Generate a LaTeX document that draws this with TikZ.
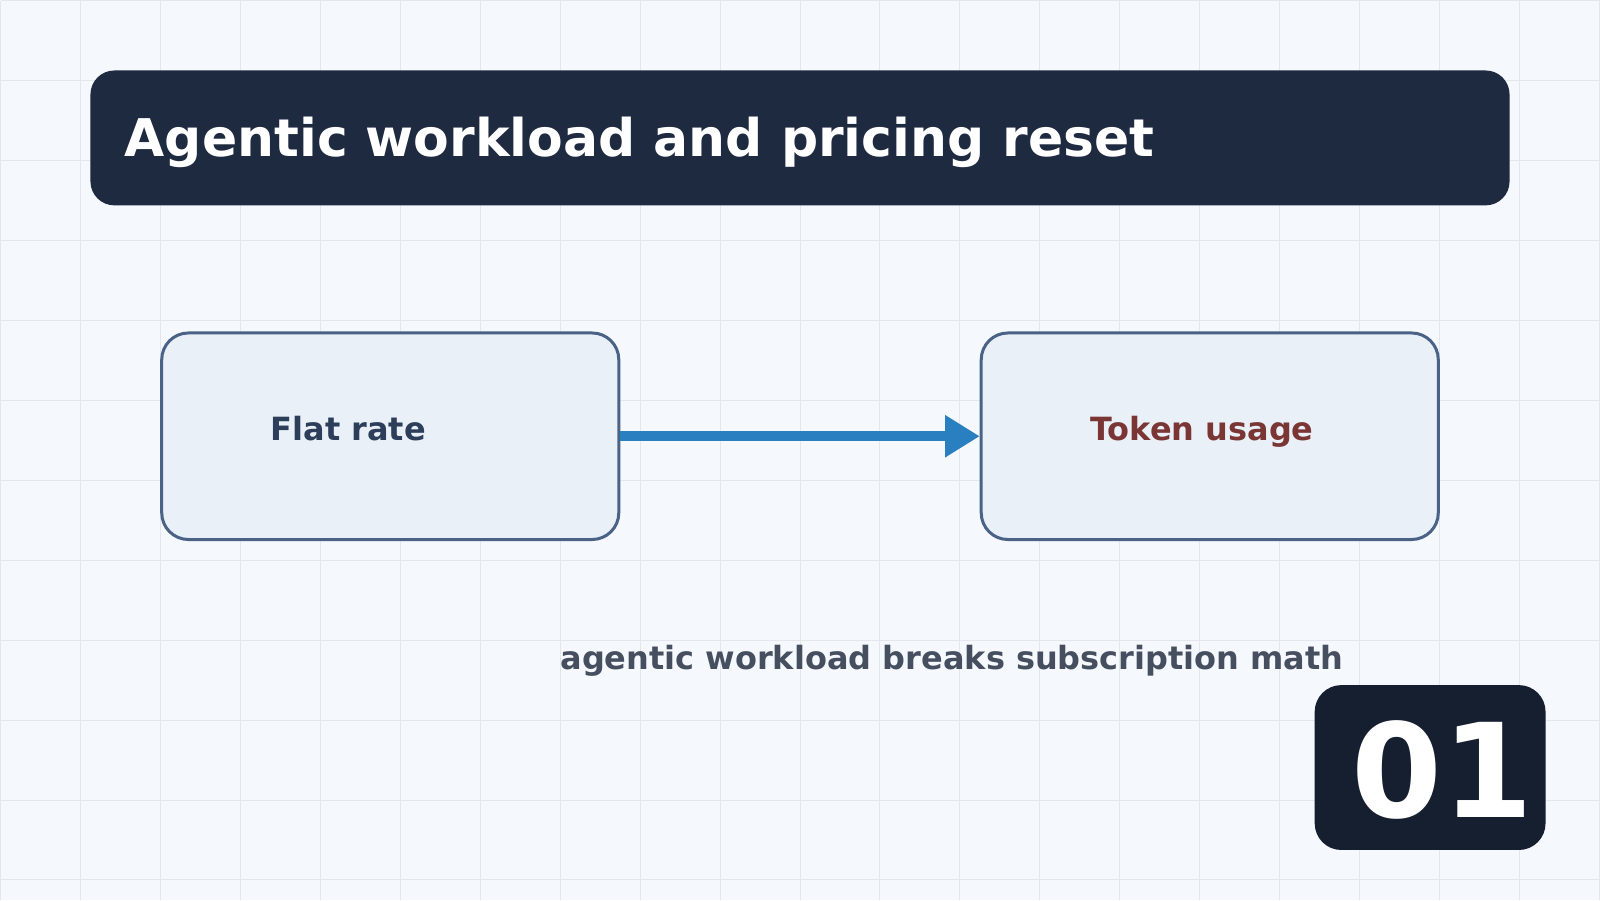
\documentclass[tikz,border=0pt]{standalone}
\usepackage{fontspec}
\setmainfont{DejaVu Sans}
\usetikzlibrary{arrows.meta}
\definecolor{pagebg}{HTML}{F5F8FC}
\definecolor{gridln}{HTML}{E2E7EE}
\definecolor{titlebg}{HTML}{1E2A40}
\definecolor{boxfill}{HTML}{EAF0F8}
\definecolor{boxline}{HTML}{4A6286}
\definecolor{flatcol}{HTML}{2C3E5A}
\definecolor{tokencol}{HTML}{7A3535}
\definecolor{arrowcol}{HTML}{2A7FC0}
\definecolor{notecol}{HTML}{454F5F}
\definecolor{badgebg}{HTML}{151F30}
\tikzset{
  stagebox/.style={draw=boxline, fill=boxfill, line width=2.25pt, rounded corners=20pt,
    minimum width=343pt, minimum height=155pt, inner sep=0pt},
  stagelabel/.style={anchor=base west, inner sep=0pt, font=\bfseries\fontsize{24}{29}\selectfont},
}
\begin{document}
\begin{tikzpicture}[x=0.75pt, y=-0.75pt]
  % page and grid
  \fill[pagebg] (0,0) rectangle (1600,900);
  \foreach \x in {0,80,...,1600}
    \draw[gridln, line width=0.75pt] (\x,0) -- (\x,900);
  \foreach \y in {0,80,...,880}
    \draw[gridln, line width=0.75pt] (0,\y) -- (1600,\y);
  \useasboundingbox (0,0) rectangle (1600,900);

  % title bar
  \fill[titlebg, rounded corners=18pt] (90,70) rectangle (1510,205);
  \node[anchor=base west, inner sep=0pt, text=white, font=\bfseries\fontsize{39}{47}\selectfont]
    (title) at (124,156) {Agentic workload and pricing reset};

  % the two stages
  \node[stagebox] (flatbox) at (390,436) {};
  \node[stagebox] (tokenbox) at (1210,436) {};
  \node[stagelabel, text=flatcol] (flat) at (270,440) {Flat rate};
  \node[stagelabel, text=tokencol] (token) at (1090,440) {Token usage};

  % shift arrow
  \draw[arrowcol, line width=7.5pt, -{Triangle[length=26pt, width=30pt]}]
    (flatbox.east) -- (tokenbox.west);

  % note under the arrow
  \node[anchor=base west, inner sep=0pt, text=notecol, font=\bfseries\fontsize{24}{29}\selectfont]
    (note) at (560,669) {agentic workload breaks subscription math};

  % slide number
  \fill[badgebg, rounded corners=20pt] (1315,685) rectangle (1546,850);
  \node[anchor=base west, inner sep=0pt, text=white, font=\bfseries\fontsize{98}{102}\selectfont]
    (num) at (1352,817) {01};
\end{tikzpicture}
\end{document}
